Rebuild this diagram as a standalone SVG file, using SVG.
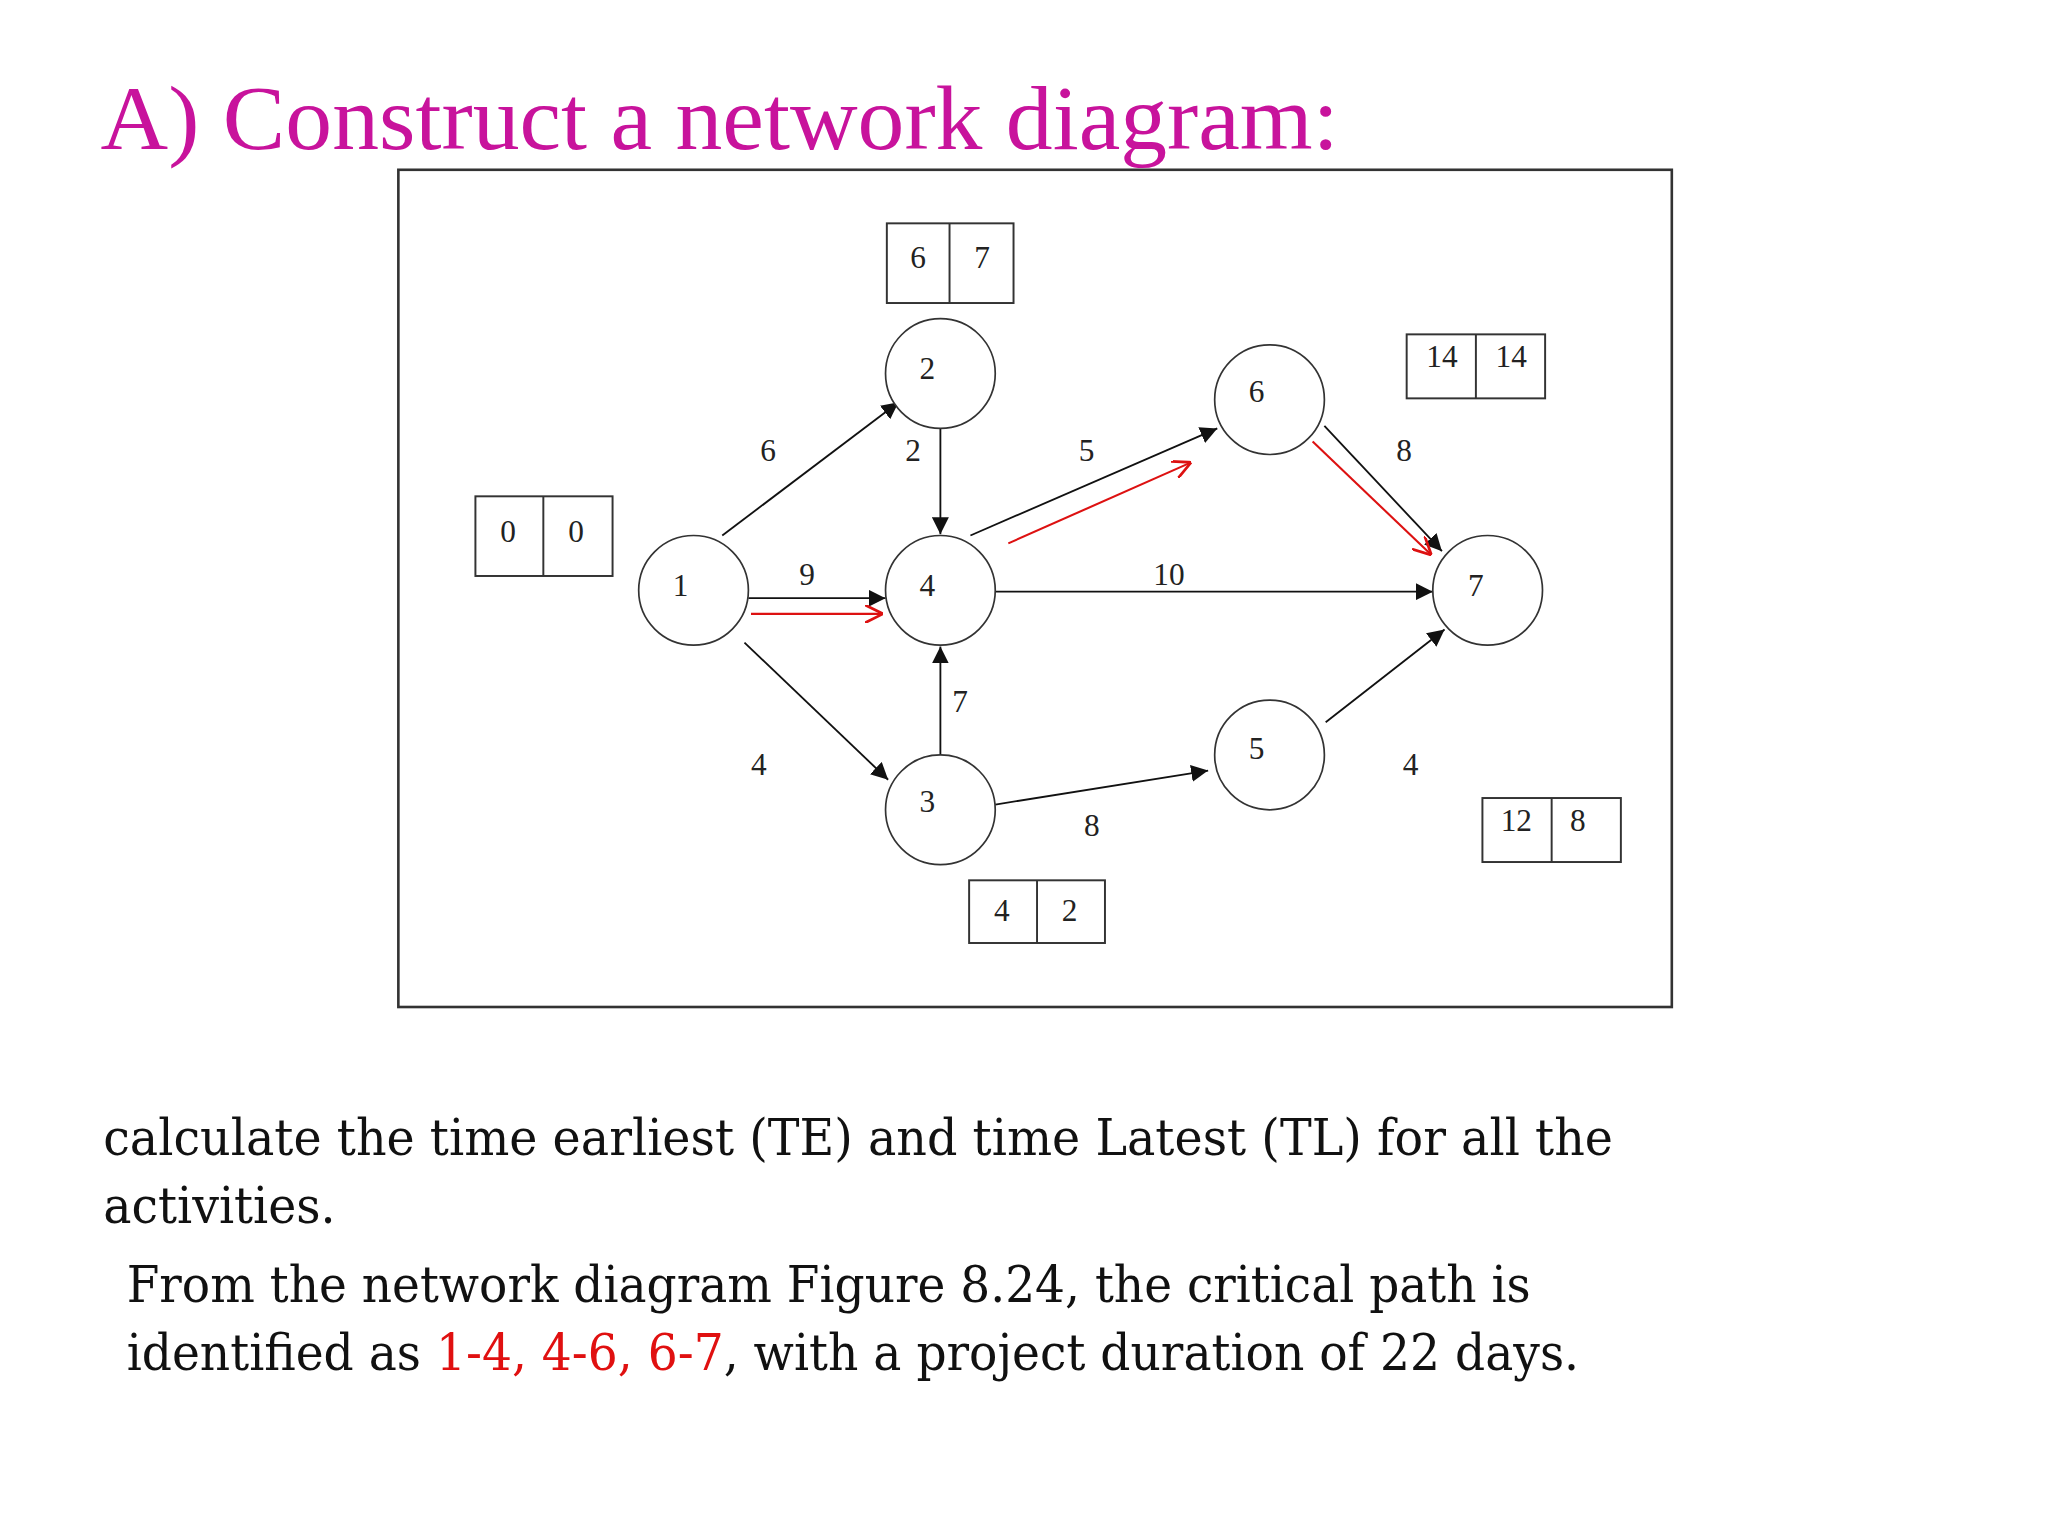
<svg xmlns="http://www.w3.org/2000/svg" width="2048" height="1536" viewBox="0 0 2048 1536">
<style>
.n{fill:#fff;stroke:#333;stroke-width:1.3}
.b{fill:#fff;stroke:#333;stroke-width:1.5}
.t{font-family:"Liberation Serif",serif;font-size:24px;fill:#222;text-anchor:middle}
.e{stroke:#111;stroke-width:1.4;fill:none;marker-end:url(#a)}
.r{stroke:#d11;stroke-width:1.6;fill:none;marker-end:url(#o)}
.p{font-family:"DejaVu Serif","Liberation Serif",serif;font-size:38px;fill:#111}
</style>
<defs>
<marker id="a" viewBox="0 0 10 10" refX="10" refY="5" markerWidth="13" markerHeight="13" markerUnits="userSpaceOnUse" orient="auto"><path d="M0,0L10,5L0,10z" fill="#111"/></marker>
<marker id="o" viewBox="0 0 10 10" refX="10" refY="5" markerWidth="14" markerHeight="14" markerUnits="userSpaceOnUse" orient="auto"><path d="M0,0L10,5L0,10" fill="none" stroke="#d11" stroke-width="1.5"/></marker>
</defs>
<rect width="2048" height="1536" fill="#fff"/>
<g transform="scale(1.3061)">
<text x="77" y="114" font-family="Liberation Serif,serif" font-size="70" fill="#C8139C" textLength="948" lengthAdjust="spacingAndGlyphs">A) Construct a network diagram:</text>
<rect x="305" y="130" width="975" height="641" fill="none" stroke="#333" stroke-width="2"/>
<g id="connectors">
<line class="e" x1="553" y1="410" x2="688" y2="308"/>
<line class="e" x1="720" y1="328" x2="720" y2="409"/>
<line class="e" x1="573" y1="458" x2="678" y2="458"/>
<line class="r" x1="575" y1="470" x2="676" y2="470"/>
<line class="e" x1="570" y1="492" x2="680" y2="597"/>
<line class="e" x1="720" y1="578" x2="720" y2="495"/>
<line class="e" x1="743" y1="410" x2="932" y2="328"/>
<line class="r" x1="772" y1="416" x2="912" y2="354"/>
<line class="e" x1="762" y1="453" x2="1097" y2="453"/>
<line class="e" x1="1014" y1="326" x2="1104" y2="422"/>
<line class="r" x1="1005" y1="338" x2="1096" y2="425"/>
<line class="e" x1="762" y1="616" x2="925" y2="590"/>
<line class="e" x1="1015" y1="553" x2="1106" y2="482"/>
<text class="t" x="588" y="353">6</text>
<text class="t" x="699" y="353">2</text>
<text class="t" x="832" y="353">5</text>
<text class="t" x="1075" y="353">8</text>
<text class="t" x="618" y="448">9</text>
<text class="t" x="895" y="448">10</text>
<text class="t" x="735" y="545">7</text>
<text class="t" x="581" y="593">4</text>
<text class="t" x="836" y="640">8</text>
<text class="t" x="1080" y="593">4</text>
</g>
<g id="n1"><circle class="n" cx="531" cy="452" r="42"/><text class="t" x="521" y="456">1</text></g>
<g id="n2"><circle class="n" cx="720" cy="286" r="42"/><text class="t" x="710" y="290">2</text></g>
<g id="n3"><circle class="n" cx="720" cy="620" r="42"/><text class="t" x="710" y="622">3</text></g>
<g id="n4"><circle class="n" cx="720" cy="452" r="42"/><text class="t" x="710" y="456">4</text></g>
<g id="n5"><circle class="n" cx="972" cy="578" r="42"/><text class="t" x="962" y="581">5</text></g>
<g id="n6"><circle class="n" cx="972" cy="306" r="42"/><text class="t" x="962" y="308">6</text></g>
<g id="n7"><circle class="n" cx="1139" cy="452" r="42"/><text class="t" x="1130" y="456">7</text></g>
<g id="box2"><rect class="b" x="679" y="171" width="97" height="61"/><line class="b" x1="727" y1="171" x2="727" y2="232"/><text class="t" x="703" y="205">6</text><text class="t" x="752" y="205">7</text></g>
<g id="box1"><rect class="b" x="364" y="380" width="105" height="61"/><line class="b" x1="416" y1="380" x2="416" y2="441"/><text class="t" x="389" y="415">0</text><text class="t" x="441" y="415">0</text></g>
<g id="box6"><rect class="b" x="1077" y="256" width="106" height="49"/><line class="b" x1="1130" y1="256" x2="1130" y2="305"/><text class="t" x="1104" y="281">14</text><text class="t" x="1157" y="281">14</text></g>
<g id="box5"><rect class="b" x="1135" y="611" width="106" height="49"/><line class="b" x1="1188" y1="611" x2="1188" y2="660"/><text class="t" x="1161" y="636">12</text><text class="t" x="1208" y="636">8</text></g>
<g id="box3"><rect class="b" x="742" y="674" width="104" height="48"/><line class="b" x1="794" y1="674" x2="794" y2="722"/><text class="t" x="767" y="705">4</text><text class="t" x="819" y="705">2</text></g>
<text class="p" x="79" y="884" textLength="1156" lengthAdjust="spacingAndGlyphs">calculate the time earliest (TE) and time Latest (TL) for all the</text>
<text class="p" x="79" y="936" textLength="178" lengthAdjust="spacingAndGlyphs">activities.</text>
<text class="p" x="97" y="997" textLength="1075" lengthAdjust="spacingAndGlyphs">From the network diagram Figure 8.24, the critical path is</text>
<text class="p" x="97" y="1049" textLength="1112" lengthAdjust="spacingAndGlyphs">identified as <tspan fill="#e01010">1-4, 4-6, 6-7</tspan>, with a project duration of 22 days.</text>
</g>
</svg>
